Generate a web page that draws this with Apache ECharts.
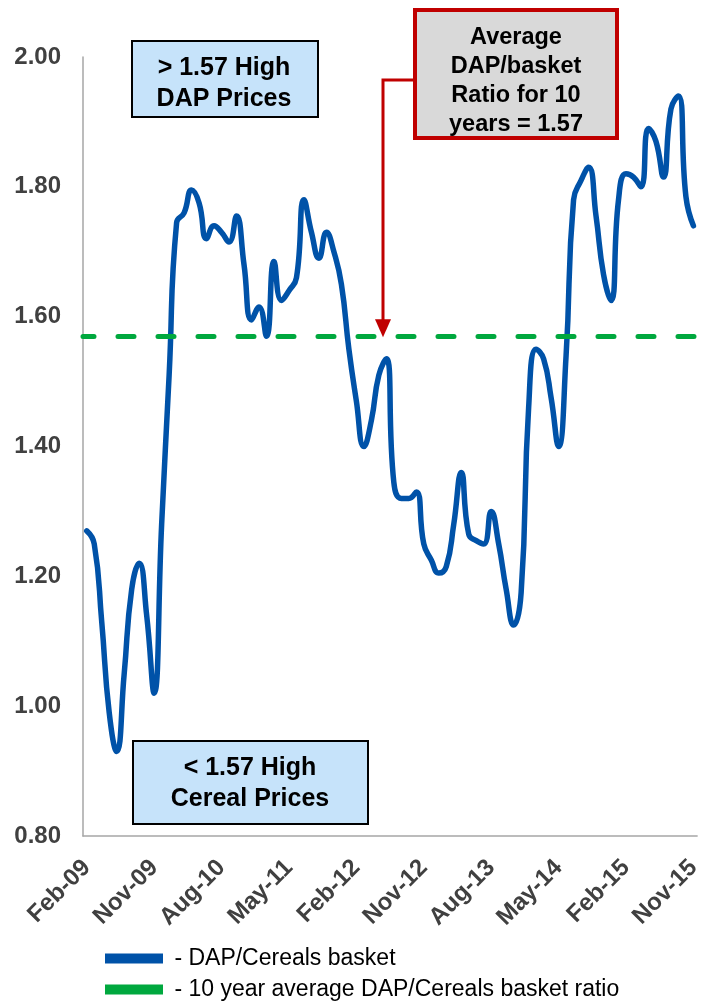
<!DOCTYPE html>
<html>
<head>
<meta charset="utf-8">
<script src="https://cdn.jsdelivr.net/npm/echarts@6/dist/echarts.min.js"></script>
<style>
  html, body { margin: 0; padding: 0; background: #ffffff; }
  #chart { width: 704px; height: 1003px; }
</style>
</head>
<body>
<div id="chart"></div>
<script>
// Monthly categories, Feb-09 .. Nov-15
const months = [
  'Feb-09','Mar-09','Apr-09','May-09','Jun-09','Jul-09','Aug-09','Sep-09','Oct-09','Nov-09','Dec-09',
  'Jan-10','Feb-10','Mar-10','Apr-10','May-10','Jun-10','Jul-10','Aug-10','Sep-10','Oct-10','Nov-10','Dec-10',
  'Jan-11','Feb-11','Mar-11','Apr-11','May-11','Jun-11','Jul-11','Aug-11','Sep-11','Oct-11','Nov-11','Dec-11',
  'Jan-12','Feb-12','Mar-12','Apr-12','May-12','Jun-12','Jul-12','Aug-12','Sep-12','Oct-12','Nov-12','Dec-12',
  'Jan-13','Feb-13','Mar-13','Apr-13','May-13','Jun-13','Jul-13','Aug-13','Sep-13','Oct-13','Nov-13','Dec-13',
  'Jan-14','Feb-14','Mar-14','Apr-14','May-14','Jun-14','Jul-14','Aug-14','Sep-14','Oct-14','Nov-14','Dec-14',
  'Jan-15','Feb-15','Mar-15','Apr-15','May-15','Jun-15','Jul-15','Aug-15','Sep-15','Oct-15','Nov-15'
];

// DAP price divided by cereals basket price, one value per month
const dapCerealRatio = [
  1.27, 1.25, 1.13, 0.99, 0.93, 1.05, 1.18, 1.22, 1.14, 1.02, 1.28,
  1.51, 1.745, 1.76, 1.795, 1.775, 1.72, 1.74, 1.73, 1.715, 1.755, 1.68, 1.595,
  1.615, 1.57, 1.685, 1.625, 1.64, 1.66, 1.78, 1.73, 1.69, 1.73, 1.70, 1.65,
  1.55, 1.47, 1.40, 1.44, 1.51, 1.535, 1.345, 1.32, 1.32, 1.33, 1.25, 1.225,
  1.205, 1.215, 1.28, 1.36, 1.265, 1.255, 1.25, 1.30, 1.25, 1.18, 1.125, 1.175,
  1.46, 1.55, 1.535, 1.475, 1.40, 1.54, 1.78, 1.81, 1.83, 1.755, 1.665, 1.625,
  1.78, 1.82, 1.815, 1.80, 1.89, 1.87, 1.815, 1.92, 1.94, 1.785, 1.74
];

// 10 year average of the ratio
const tenYearAverage = 1.57;

const seriesNames = ['DAP/Cereals basket', '10 year average DAP/Cereals basket ratio'];
const BLUE = '#0052A8';
const GREEN = '#00A83E';
const RED = '#C00000';
const FONT = '"Liberation Sans", Arial, sans-serif';

const chart = echarts.init(document.getElementById('chart'), null, { renderer: 'canvas' });

const axisLineStyle = { color: '#A6A6A6', width: 1.5 };

chart.setOption({
  animation: false,
  backgroundColor: '#ffffff',
  grid: { left: 83, right: 4, top: 57, bottom: 167, containLabel: false },
  xAxis: {
    type: 'category',
    data: months,
    boundaryGap: true,
    axisLine: { show: true, lineStyle: axisLineStyle },
    axisTick: { show: false },
    splitLine: { show: false },
    axisLabel: {
      interval: 8,
      rotate: 45,
      margin: 28,
      fontSize: 24,
      fontWeight: 'bold',
      fontFamily: FONT,
      color: '#404040'
    }
  },
  yAxis: {
    type: 'value',
    min: 0.8,
    max: 2.0,
    interval: 0.2,
    axisLine: { show: true, lineStyle: axisLineStyle },
    axisTick: { show: false },
    splitLine: { show: false },
    axisLabel: {
      margin: 22,
      fontSize: 24,
      fontWeight: 'bold',
      fontFamily: FONT,
      color: '#404040',
      formatter: v => v.toFixed(2)
    }
  },
  legend: {
    orient: 'vertical',
    left: 105,
    top: 947,
    padding: 0,
    itemWidth: 58,
    itemHeight: 10,
    itemGap: 8,
    icon: 'rect',
    data: seriesNames,
    formatter: ' - {name}',
    textStyle: { fontSize: 23, color: '#000000', fontFamily: FONT }
  },
  series: [
    {
      name: seriesNames[0],
      type: 'line',
      data: dapCerealRatio,
      smooth: 0.5,
      showSymbol: false,
      z: 3,
      lineStyle: { color: BLUE, width: 5.5, cap: 'round', join: 'round' },
      itemStyle: { color: BLUE }
    },
    {
      name: seriesNames[1],
      type: 'line',
      data: [],
      z: 2,
      itemStyle: { color: GREEN },
      lineStyle: { color: GREEN },
      markLine: {
        silent: true,
        symbol: ['none', 'none'],
        label: { show: false },
        lineStyle: { color: GREEN, width: 5, type: [16, 24], cap: 'round', dashOffset: 5 },
        data: [{ yAxis: tenYearAverage }]
      }
    }
  ]
});

// Annotation boxes and the arrow pointing at the average line
const avgY = chart.convertToPixel({ yAxisIndex: 0 }, tenYearAverage);
const arrowX = 383;

chart.setOption({
  graphic: [
    {
      type: 'rect', z: 10,
      shape: { x: 132, y: 41, width: 186, height: 76 },
      style: { fill: '#C6E3FA', stroke: '#000000', lineWidth: 2 }
    },
    {
      type: 'text', z: 11,
      style: {
        x: 224, y: 84, text: '> 1.57 High\nDAP Prices',
        textAlign: 'center', textVerticalAlign: 'middle',
        font: 'bold 25px ' + FONT, lineHeight: 31, fill: '#000000'
      }
    },
    {
      type: 'rect', z: 10,
      shape: { x: 133, y: 741, width: 235, height: 83 },
      style: { fill: '#C6E3FA', stroke: '#000000', lineWidth: 2 }
    },
    {
      type: 'text', z: 11,
      style: {
        x: 250, y: 784, text: '< 1.57 High\nCereal Prices',
        textAlign: 'center', textVerticalAlign: 'middle',
        font: 'bold 25px ' + FONT, lineHeight: 31, fill: '#000000'
      }
    },
    {
      type: 'polyline', z: 10,
      shape: { points: [[417, 80], [arrowX, 80], [arrowX, avgY - 15]] },
      style: { stroke: RED, lineWidth: 3, fill: null }
    },
    {
      type: 'polygon', z: 10,
      shape: { points: [[arrowX - 8, avgY - 17], [arrowX + 8, avgY - 17], [arrowX, avgY + 1]] },
      style: { fill: RED }
    },
    {
      type: 'rect', z: 10,
      shape: { x: 415, y: 10, width: 202, height: 128 },
      style: { fill: '#D9D9D9', stroke: RED, lineWidth: 4 }
    },
    {
      type: 'text', z: 11,
      style: {
        x: 516, y: 81, text: 'Average\nDAP/basket\nRatio for 10\nyears = 1.57',
        textAlign: 'center', textVerticalAlign: 'middle',
        font: 'bold 23.5px ' + FONT, lineHeight: 29, fill: '#000000'
      }
    }
  ]
});
</script>
</body>
</html>
